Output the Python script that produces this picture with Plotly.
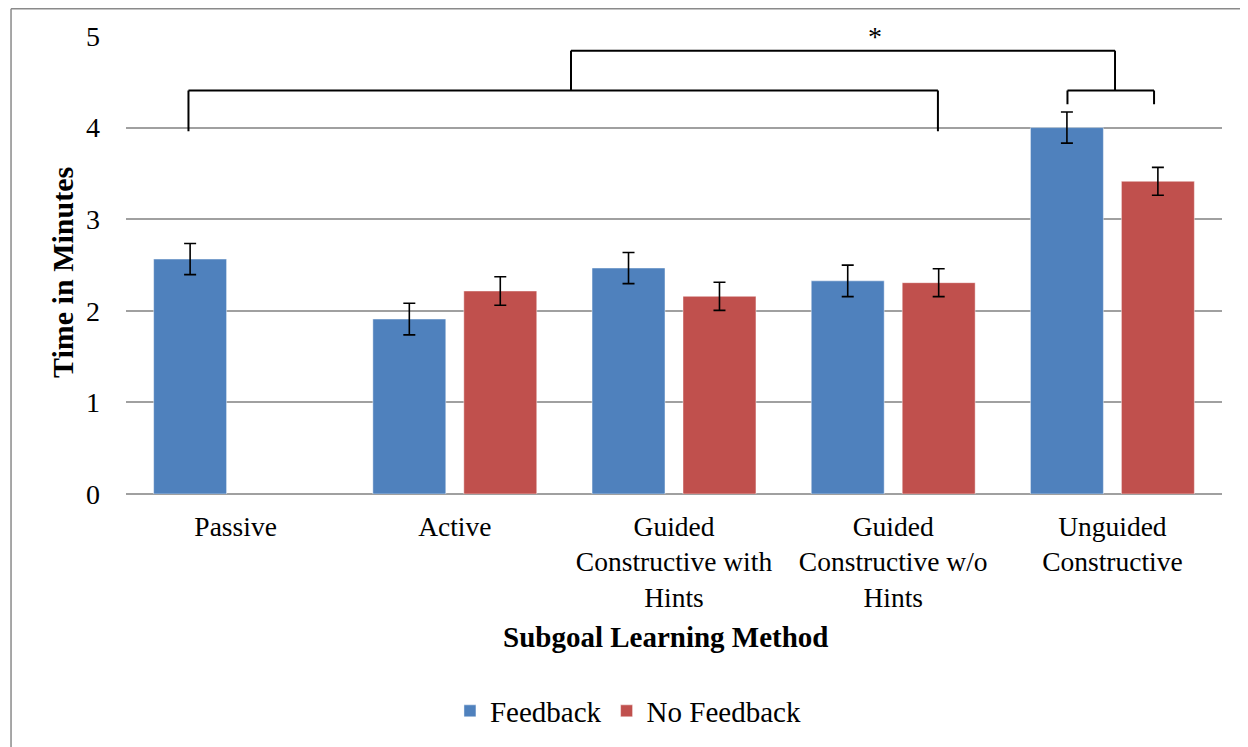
import plotly.graph_objects as go

categories = ["Passive", "Active", "Guided<br>Constructive with<br>Hints",
              "Guided<br>Constructive w/o<br>Hints", "Unguided<br>Constructive"]
feedback = [2.565, 1.91, 2.467, 2.327, 4.0]
feedback_err = [0.17, 0.173, 0.17, 0.172, 0.17]
no_feedback = [None, 2.216, 2.158, 2.307, 3.414]
no_feedback_err = [0, 0.155, 0.153, 0.152, 0.152]
y_ticks = [0, 1, 2, 3, 4, 5]

FONT = "Times New Roman, Liberation Serif, serif"
BLUE = "#4F81BD"
RED = "#C0504D"

fig = go.Figure()
fig.add_trace(go.Bar(
    name="Feedback", x=categories, y=feedback,
    marker=dict(color=BLUE, line=dict(color="rgba(255,255,255,0.45)", width=1)),
    error_y=dict(type="data", array=feedback_err, color="black", thickness=1.6, width=6),
))
fig.add_trace(go.Bar(
    name="No Feedback", x=categories, y=no_feedback,
    marker=dict(color=RED, line=dict(color="rgba(255,255,255,0.45)", width=1)),
    error_y=dict(type="data", array=no_feedback_err, color="black", thickness=1.6, width=6),
))

line = dict(color="black", width=2)
def seg(x0, y0, x1, y1):
    fig.add_shape(type="line", xref="x", yref="y", x0=x0, y0=y0, x1=x1, y1=y1, line=line)

# significance brackets (category-index coordinates)
seg(-0.215, 3.96, -0.215, 4.405)
seg(-0.215, 4.405, 3.204, 4.405)
seg(3.204, 4.405, 3.204, 3.96)
seg(1.53, 4.405, 1.53, 4.84)
seg(1.53, 4.84, 4.012, 4.84)
seg(4.012, 4.84, 4.012, 4.405)
seg(3.795, 4.405, 4.19, 4.405)
seg(3.795, 4.405, 3.795, 4.255)
seg(4.19, 4.405, 4.19, 4.255)

fig.add_annotation(x=2.917, y=5.0, xref="x", yref="y", text="*", showarrow=False,
                   font=dict(family=FONT, size=28, color="black"), yanchor="middle")

# outer border (left and top)
border = dict(color="#8a8a8a", width=1.5)
fig.add_shape(type="line", xref="paper", yref="paper", x0=-0.1049, y0=1.0595, x1=1.05, y1=1.0595, line=border)
fig.add_shape(type="line", xref="paper", yref="paper", x0=-0.1049, y0=1.0595, x1=-0.1049, y1=-0.65, line=border)

# axis titles as annotations
fig.add_annotation(x=0.4927, y=-0.3122, xref="paper", yref="paper", text="<b>Subgoal Learning Method</b>",
                   showarrow=False, font=dict(family=FONT, size=29, color="black"),
                   xanchor="center", yanchor="middle")
fig.add_annotation(x=-0.0584, y=0.4847, xref="paper", yref="paper", text="<b>Time in Minutes</b>",
                   showarrow=False, textangle=-90, font=dict(family=FONT, size=30, color="black"),
                   xanchor="center", yanchor="middle")

fig.update_layout(
    width=1248, height=747,
    margin=dict(l=118, r=34, t=28, b=261),
    paper_bgcolor="white", plot_bgcolor="white",
    font=dict(family=FONT, size=28, color="black"),
    barmode="group", bargap=0.17, bargroupgap=0.198,
    showlegend=True,
    legend=dict(orientation="h", x=0.458, y=-0.4738, xanchor="center", yanchor="middle",
                font=dict(family=FONT, size=29, color="black"), itemwidth=30),
)
fig.update_xaxes(type="category", range=[-0.5, 4.5], showgrid=False, showline=False,
                 ticks="", tickfont=dict(family=FONT, size=27.5, color="black"), ticklabelstandoff=13)
fig.update_yaxes(range=[0, 5], tickvals=y_ticks, showgrid=True, gridcolor="#a0a0a0", gridwidth=1.5,
                 zeroline=True, zerolinecolor="#a0a0a0", zerolinewidth=1.5, showline=False,
                 ticks="", tickfont=dict(family=FONT, size=28, color="black"), ticklabelstandoff=25)

fig.write_html("out.html")
